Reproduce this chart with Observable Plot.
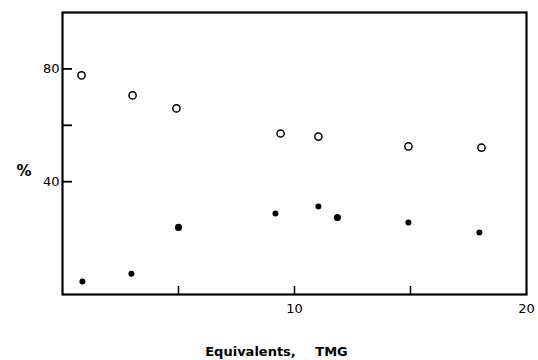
<!DOCTYPE html>
<html>
<head>
<meta charset="utf-8">
<script src="https://cdn.jsdelivr.net/npm/d3@7"></script>
<script src="https://cdn.jsdelivr.net/npm/@observablehq/plot@0.6"></script>
<style>
  html, body { margin: 0; padding: 0; background: #fff; }
  svg { display: block; }
</style>
</head>
<body>
<div id="chart"></div>
<script>
// Open circles series
const openX = [0.82, 3.02, 4.91, 9.40, 11.03, 14.91, 18.06];
const openY = [77.7, 70.6, 66.0, 57.1, 56.0, 52.5, 52.1];
// Filled circles series
const filledX = [0.86, 2.97, 5.0, 9.18, 11.03, 11.85, 14.91, 17.97];
const filledY = [4.6, 7.4, 23.8, 28.7, 31.2, 27.3, 25.5, 22.0];
const filledKind = ["small", "small", "large", "small", "small", "large", "small", "small"];
// Axis ticks
const xTicks = [5, 10, 15];
const xTickLabels = [10, 20];
const yTicks = [40, 60, 80];
const yTickLabels = [40, 80];
const xLabel = "Equivalents,\u2003\u2002TMG";
const yLabel = "%";

const openData = openX.map((x, i) => ({x, y: openY[i]}));
const filledData = filledX.map((x, i) => ({x, y: filledY[i], kind: filledKind[i]}));

const W = 538, H = 360;
const mL = 62, mR = 12, mT = 12, mB = 66;
const plotW = W - mL - mR, plotH = H - mT - mB;
const font = "DejaVu Sans, sans-serif";

const chart = Plot.plot({
  width: W,
  height: H,
  marginLeft: mL,
  marginRight: mR,
  marginTop: mT,
  marginBottom: mB,
  style: {fontFamily: font, color: "#000", background: "#fff"},
  x: {domain: [0, 20]},
  y: {domain: [0, 100]},
  marks: [
    Plot.ruleX(xTicks, {x: d => d, insetTop: plotH - 8, stroke: "#000", strokeWidth: 1.5}),
    Plot.ruleY(yTicks, {y: d => d, insetRight: plotW - 10, stroke: "#000", strokeWidth: 1.8}),
    Plot.frame({stroke: "#000", strokeWidth: 2.2}),
    Plot.axisX({ticks: xTickLabels, tickSize: 0, tickPadding: 9, fontSize: 13, label: null}),
    Plot.axisY({ticks: yTickLabels, tickSize: 0, tickPadding: 3, fontSize: 13, label: null}),
    Plot.text([xLabel], {text: d => d, frameAnchor: "bottom", dx: -18, dy: 61, fontSize: 13, fontWeight: "bold", fill: "#000"}),
    Plot.text([yLabel], {text: d => d, frameAnchor: "left", dx: -46, dy: 18, fontSize: 15, fontWeight: "bold", fill: "#000"}),
    Plot.dot(openData, {x: "x", y: "y", r: 3.6, stroke: "#000", strokeWidth: 1.5, fill: "#fff"}),
    Plot.dot(filledData, {x: "x", y: "y", r: d => d.kind === "large" ? 5 : 3.6, fill: "#000", stroke: "none"})
  ]
});
chart.setAttribute("font-family", font);
document.getElementById("chart").append(chart);
</script>
</body>
</html>
